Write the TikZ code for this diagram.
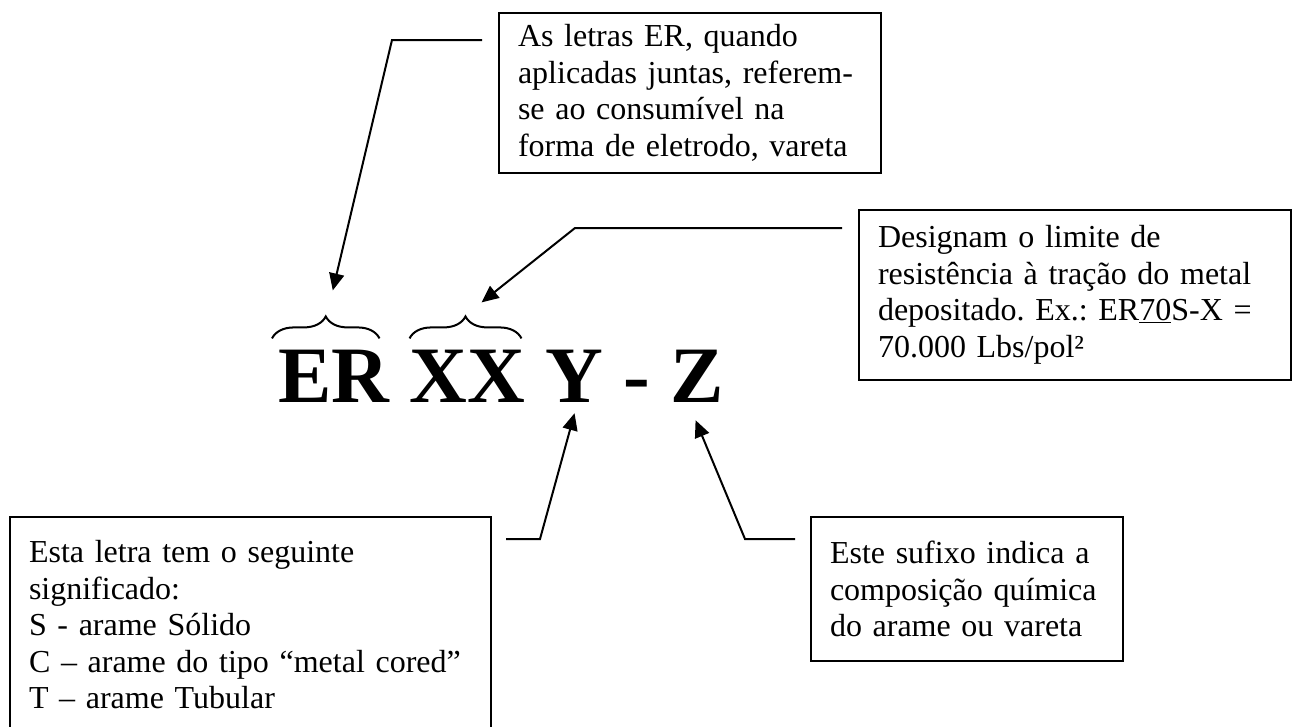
\documentclass[tikz,border=0pt]{standalone}
\usepackage{fontspec}
\setmainfont{Liberation Serif}
\usepackage{tikz}
\usetikzlibrary{arrows.meta, decorations.pathreplacing, calc, positioning}
\frenchspacing

\begin{document}
\begin{tikzpicture}[x=1pt, y=-1pt,
  caixa/.style={draw, line width=2pt, anchor=north west, align=left, inner xsep=19pt, inner ysep=0pt, font=\fontsize{32}{36.5}\selectfont},
  letra/.style={inner sep=0pt, font=\fontsize{80}{80}\selectfont\bfseries},
  seta/.style={-{Triangle[length=17pt, width=15pt]}, line width=2pt},
  chave/.style={decorate, decoration={brace, amplitude=22pt}, line width=2pt}]
  \useasboundingbox (0,0) rectangle (1299,726);

  % caixas de texto
  \node[caixa, text width=344pt, minimum height=160pt] (er-caixa) at (498,12)
    {As letras ER, quando\\aplicadas juntas, referem-\\se ao consumível na\\forma de eletrodo, vareta};
  \node[caixa, text width=394pt, minimum height=170pt] (xx-caixa) at (858,209)
    {Designam o limite de\\resistência à tração do metal\\depositado. Ex.: ER\underline{70}S-X =\\70.000 Lbs/pol²};
  \node[caixa, text width=443pt, minimum height=216pt] (y-caixa) at (9,516)
    {Esta letra tem o seguinte\\significado:\\S - arame Sólido\\C – arame do tipo “metal cored”\\T – arame Tubular};
  \node[caixa, text width=274pt, minimum height=144pt] (z-caixa) at (810,516)
    {Este sufixo indica a\\composição química\\do arame ou vareta};

  % designacao
  \node[letra, anchor=base west] (er) at (278,402) {ER};
  \node[letra, base right=20pt of er] (xx) {XX};
  \node[letra, base right=20pt of xx] (y) {Y};
  \node[letra, base right=20pt of y] (hifen) {-};
  \node[letra, base right=20pt of hifen] (z) {Z};

  \draw[chave] ($(er.north west)+(-6,-11)$) -- ($(er.north east)+(-10,-11)$);
  \draw[chave] ($(xx.north west)+(0,-11)$) -- ($(xx.north east)+(-4,-11)$);

  % linhas de chamada
  \coordinate (er-ini) at (482,40);
  \coordinate (er-canto) at (392,40);
  \coordinate (xx-ini) at (842,228);
  \coordinate (xx-canto) at (575,228);
  \coordinate (y-ini) at (506,539);
  \coordinate (y-canto) at (540,539);
  \coordinate (z-ini) at (795,539);
  \coordinate (z-canto) at (745,539);

  \draw[seta] (er-ini) -- (er-canto) -- ($(er.north)+(-1,-59)$);
  \draw[seta] (xx-ini) -- (xx-canto) -- ($(xx.north)+(14,-47)$);
  \draw[seta] (y-ini) -- (y-canto) -- ($(y.south)+(0,11)$);
  \draw[seta] (z-ini) -- (z-canto) -- ($(z.south)+(-2,18)$);
\end{tikzpicture}
\end{document}
